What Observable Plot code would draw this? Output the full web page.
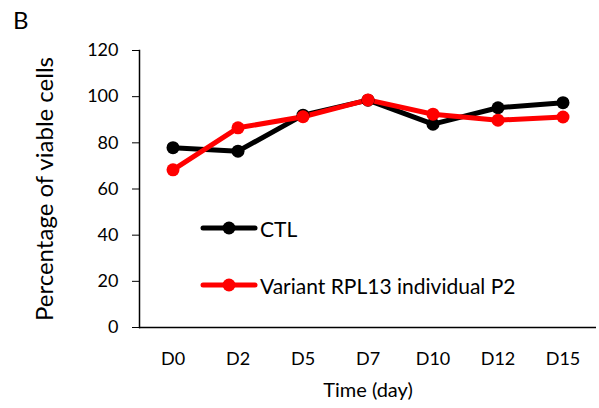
<!DOCTYPE html>
<html>
<head>
<meta charset="utf-8">
<script src="https://cdn.jsdelivr.net/npm/d3@7"></script>
<script src="https://cdn.jsdelivr.net/npm/@observablehq/plot@0.6"></script>
<style>
  body { margin: 0; background: #fff; font-family: Lato, sans-serif; }
  #wrap { position: relative; width: 599px; height: 408px; }
  #panel { position: absolute; left: 13px; top: 5px; font-size: 24px; color: #000; }
  #legend { position: absolute; left: 200px; top: 214px; font-size: 21px; color: #000; }
  .item { display: flex; align-items: center; height: 28px; margin-bottom: 29px; }
  .item svg { margin-right: 2px; }
</style>
</head>
<body>
<div id="wrap">
  <div id="chart"></div>
  <div id="panel">B</div>
  <div id="legend"></div>
</div>
<script>
const days = ["D0", "D2", "D5", "D7", "D10", "D12", "D15"];
const seriesNames = ["CTL", "Variant RPL13 individual P2"];
const ctlValues = [77.9, 76.4, 92.0, 98.5, 88.1, 95.2, 97.4];
const variantValues = [68.3, 86.5, 91.3, 98.6, 92.4, 89.8, 91.2];
const yTicks = [0, 20, 40, 60, 80, 100, 120];
const colors = ["#000000", "#ff0000"];

const data = [];
days.forEach((d, i) => data.push({ day: d, value: ctlValues[i], series: seriesNames[0] }));
days.forEach((d, i) => data.push({ day: d, value: variantValues[i], series: seriesNames[1] }));

const chart = Plot.plot({
  width: 599,
  height: 408,
  marginLeft: 139,
  marginRight: 3,
  marginTop: 50,
  marginBottom: 81,
  style: { fontFamily: "Lato, sans-serif", fontSize: "18px", color: "#000", background: "#fff" },
  x: { type: "band", domain: days, padding: 0 },
  y: { domain: [0, 120] },
  color: { domain: seriesNames, range: colors },
  marks: [
    Plot.axisY({ ticks: yTicks, tickSize: 7, tickPadding: 14, fontSize: 18, label: null }),
    Plot.axisX({ tickSize: 0, tickPadding: 25, fontSize: 18, label: null }),
    Plot.text(["Percentage of viable cells"], { frameAnchor: "left", dx: -94, rotate: -90, textAnchor: "middle", fontSize: 24 }),
    Plot.text(["Time (day)"], { frameAnchor: "bottom", dy: 69, fontSize: 20 }),
    Plot.frame({ anchor: "left", stroke: "#000", strokeWidth: 1.5 }),
    Plot.ruleY([0], { stroke: "#000", strokeWidth: 1.5 }),
    Plot.line(data, { x: "day", y: "value", z: "series", stroke: "series", strokeWidth: 5, strokeLinejoin: "round", strokeLinecap: "round" }),
    Plot.dot(data, { x: "day", y: "value", fill: "series", r: 6.5, stroke: null })
  ]
});
document.getElementById("chart").appendChild(chart);

const legend = d3.select("#legend");
seriesNames.forEach((name, i) => {
  const item = legend.append("div").attr("class", "item");
  const s = item.append("svg").attr("width", 58).attr("height", 16);
  s.append("line").attr("x1", 3).attr("x2", 55).attr("y1", 8).attr("y2", 8)
    .attr("stroke", colors[i]).attr("stroke-width", 5).attr("stroke-linecap", "round");
  s.append("circle").attr("cx", 29).attr("cy", 8).attr("r", 6.5).attr("fill", colors[i]);
  item.append("span").text(name);
});
</script>
</body>
</html>
